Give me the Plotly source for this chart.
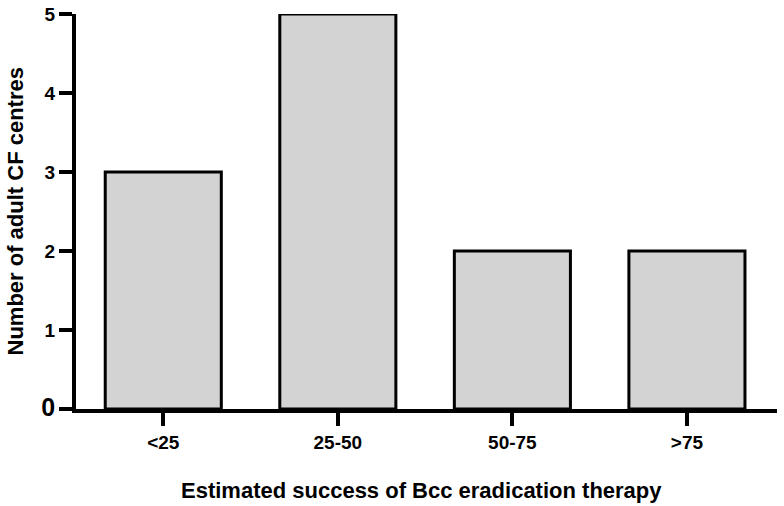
import plotly.graph_objects as go

categories = ["<25", "25-50", "50-75", ">75"]
counts = [3, 5, 2, 2]
y_ticks = [0, 1, 2, 3, 4, 5]
y_ticktext = ['<span style="font-size:25px">0</span>', "1", "2", "3", "4", "5"]

FONT = "Liberation Sans, Arial, sans-serif"

fig = go.Figure()
fig.add_trace(go.Bar(
    x=list(range(len(categories))),
    y=counts,
    width=0.665,
    marker=dict(color="#d3d3d3", line=dict(color="black", width=3)),
))

fig.update_layout(
    width=784, height=506,
    margin=dict(l=76, r=7, t=14, b=97),
    plot_bgcolor="white", paper_bgcolor="white",
    showlegend=False,
    font=dict(family=FONT, color="black", size=19),
    xaxis=dict(
        range=[-0.5, 3.516],
        tickmode="array", tickvals=list(range(len(categories))), ticktext=[f"<b>{c}</b>" for c in categories],
        showline=True, linecolor="black", linewidth=4,
        ticks="outside", ticklen=13, tickwidth=4, tickcolor="black",
        showgrid=False, zeroline=False, automargin=False,
        tickfont=dict(size=19, family=FONT),
    ),
    yaxis=dict(
        range=[0, 5],
        tickmode="array", tickvals=y_ticks, ticktext=[f"<b>{t}</b>" for t in y_ticktext],
        showline=True, linecolor="black", linewidth=4,
        ticks="outside", ticklen=13, tickwidth=4, tickcolor="black",
        showgrid=False, zeroline=False, automargin=False,
        tickfont=dict(size=19, family=FONT),
    ),
    annotations=[
        dict(text="<b>Estimated success of Bcc eradication therapy</b>", xref="paper", yref="paper",
             x=0.5, y=0, xanchor="center", yanchor="middle", yshift=-81, xshift=-5,
             showarrow=False, font=dict(size=22, family=FONT)),
        dict(text="<b>Number of adult CF centres</b>", xref="paper", yref="paper",
             x=0, y=0.5, xanchor="center", yanchor="middle", xshift=-61, textangle=-90,
             showarrow=False, font=dict(size=22, family=FONT)),
    ],
)

fig.write_html("out.html", config={"displayModeBar": False},
               post_script="document.body.style.margin='0';document.body.style.padding='0';")
